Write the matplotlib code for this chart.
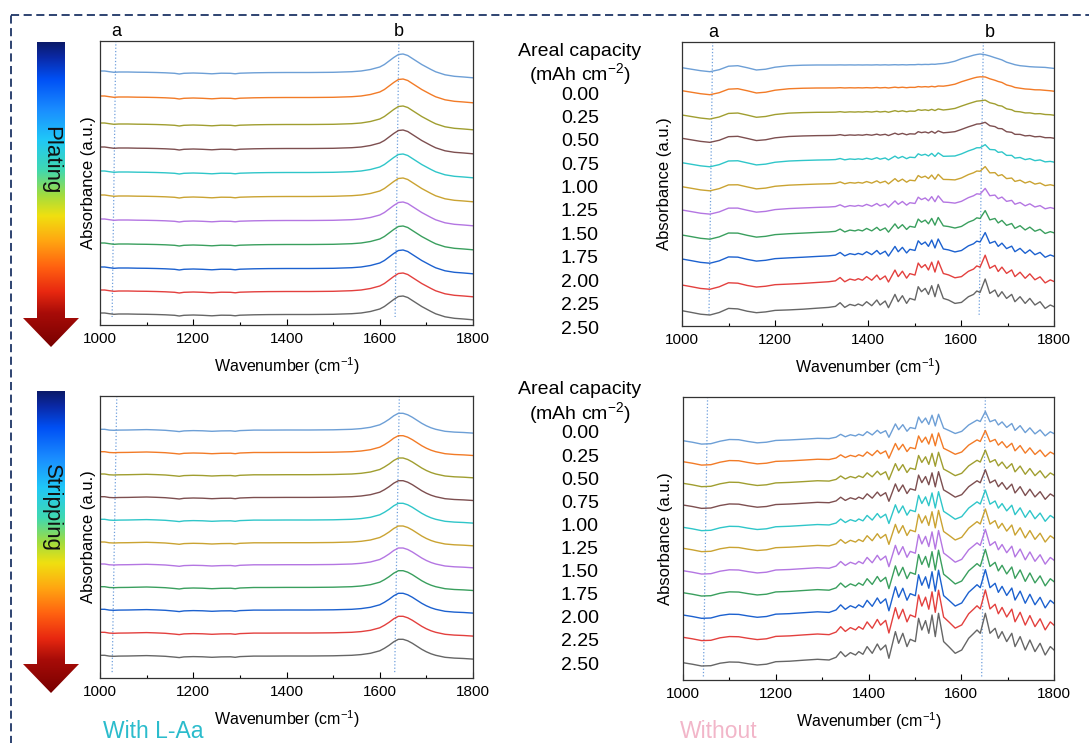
import numpy as np
import matplotlib.pyplot as plt
from matplotlib.colors import LinearSegmentedColormap
from matplotlib.patches import Polygon, Rectangle
from matplotlib.ticker import MultipleLocator
from matplotlib.transforms import blended_transform_factory

plt.rcParams['font.family'] = ['Liberation Sans', 'DejaVu Sans']
plt.rcParams['mathtext.fontset'] = 'custom'
plt.rcParams['mathtext.rm'] = 'Liberation Sans'
plt.rcParams['mathtext.it'] = 'Liberation Sans:italic'

# areal capacity of each spectrum (top trace = 0.00)
capacity = [0.00, 0.25, 0.50, 0.75, 1.00, 1.25, 1.50, 1.75, 2.00, 2.25, 2.50]
line_colors = ['#6d9fd6', '#f27b27', '#a09e30', '#7d4f50', '#2fc6c9', '#caa332',
               '#b476e2', '#3a9f5e', '#1c61cf', '#e3403e', '#666666']

# ---- with L-Aa: smooth spectra ----
wn_left = [1000, 1010, 1020, 1030, 1040, 1060, 1080, 1100, 1120, 1140,
           1160, 1170, 1180, 1200, 1220, 1240, 1260, 1280, 1290, 1300,
           1330, 1360, 1400, 1450, 1500, 1540, 1560, 1580, 1600, 1610,
           1620, 1630, 1640, 1650, 1660, 1670, 1680, 1690, 1700, 1710,
           1720, 1740, 1760, 1780, 1800]
shape_plating_la = [0, 0, -0.7, -1.3, -1, -1, -1.2, -1.3, -1.5, -1.8,
                    -2.3, -3, -2.3, -2, -2.3, -2.8, -2.2, -2.3, -2.8, -2.2,
                    -1.8, -1.6, -1.5, -1.5, -1.3, -0.7, 0, 1.5, 4, 6.5,
                    10, 13.5, 16.5, 17, 15.5, 12.5, 9.5, 6.5, 4, 1.5,
                    -0.8, -3.8, -5.3, -6, -6.8]
shape_stripping_la = [0, 0, -0.8, -1, -0.8, -0.7, -0.5, -0.3, -0.6, -1,
                      -1.8, -2.3, -1.6, -1.3, -1.5, -2, -1.6, -1.5, -2, -1.3,
                      -0.8, -0.8, -0.7, -0.7, -0.5, 0, 0.7, 2, 4.5, 7,
                      10, 13.5, 16, 16, 14.5, 12, 9, 6, 3.5, 1.5,
                      0, -2, -2.8, -3.2, -3.8]
offsets_plating_la = [254, 229, 202, 178, 154, 130, 106, 82, 58, 35, 12]
offsets_stripping_la = [248.7, 226.3, 204, 181.3, 158.7, 136, 114, 91.3, 68.7, 45.7, 22.7]

# ---- without L-Aa: spectra with sharp bands ----
wn_right = [1000, 1020, 1040, 1060, 1080, 1100, 1120, 1140, 1160, 1180,
            1200, 1230, 1260, 1290,
            1315, 1330, 1340, 1350, 1361, 1372, 1379, 1388, 1397, 1408,
            1419, 1426, 1437, 1444, 1458, 1465, 1474, 1483, 1490, 1501,
            1508, 1515, 1523, 1530, 1537, 1544, 1551, 1562, 1573, 1587,
            1601, 1616, 1627, 1634, 1641, 1652, 1662, 1673, 1680, 1688,
            1698, 1709, 1716, 1727, 1738, 1748, 1759, 1770, 1781, 1792, 1800]
# plating: first (0.00) and last (2.50) spectrum
plating_first = [0, -1.5, -3, -4, -2, 1.5, 2, 0, -2.3, -1.5,
                 0.5, 2, 2.5, 2.7,
                 2.7, 2.7, 2.8, 2.7, 2.8, 2.7, 2.8, 2.7, 2.8, 2.7,
                 2.9, 2.7, 2.9, 2.7, 3.0, 2.8, 3.0, 2.8, 3.0, 3.0,
                 3.3, 3.1, 3.3, 3.2, 3.5, 3.4, 3.8, 4.2, 5.0, 6.5,
                 9.0, 11.0, 12.5, 13.2, 13.7, 13.0, 11.7, 10.0, 9.0, 7.8,
                 5.5, 4.0, 3.0, 2.0, 1.5, 1.0, 0.7, 0.5, 0.3, -0.3, -0.7]
plating_last = [0, -1.7, -3.5, -4.3, -1.8, 2.3, 1.8, -0.5, -2, -1.2,
                0.3, 0.8, 1.5, 2.5,
                3.3, 4.3, 8, 3.3, 6.3, 5, 6.7, 5, 9, 5,
                10.7, 5.7, 9.7, 3, 16.3, 9, 15, 7.3, 12.3, 10.7,
                24, 19, 22.3, 16.3, 25, 14, 26.3, 12.3, 10.7, 7.3,
                8.3, 14, 16.3, 19.7, 18.3, 31.7, 17.3, 20.7, 14, 19,
                12.3, 16.3, 9, 14, 7.3, 12.3, 5.7, 9, 2.3, 5.7, 4]
plating_band_level = [0.0, 0.04, 0.1, 0.16, 0.27, 0.38, 0.46, 0.61, 0.72, 0.9, 1.0]
offsets_plating_wo = [258.3, 235.3, 211, 187.7, 163.3, 139.3, 116, 91, 67, 41, 15.3]

# stripping: background and last (2.50) spectrum
stripping_base = [0, -1.5, -3.5, -3, -0.5, 1.7, 1.5, -0.5, -2, -1.5,
                  -0.5, 0, 0.5, 1.3,
                  1.5, 1.6, 1.7, 1.7, 1.8, 1.8, 1.9, 1.9, 2.0, 2.1,
                  2.2, 2.2, 2.3, 2.4, 2.5, 2.6, 2.7, 2.8, 2.9, 3.0,
                  3.0, 3.1, 3.2, 3.2, 3.3, 3.4, 3.5, 4.0, 4.5, 5.0,
                  6.0, 7.0, 8.0, 8.5, 9.0, 9.0, 8.5, 7.5, 7.0, 6.5,
                  5.5, 5.0, 4.5, 4.0, 3.5, 3.0, 2.5, 2.2, 2.0, 1.8, 1.5]
stripping_last = [0, -1.5, -3.3, -3, -0.5, 0.7, 0.5, -1, -2.3, -1.5,
                  1.0, 1.5, 2.5, 3.4,
                  2.7, 5.4, 11.1, 6.1, 10.1, 7.7, 11.1, 8.4, 16.1, 9.4,
                  18.7, 12.7, 17.7, 4.4, 31.1, 19.4, 29.4, 16.1, 23.4, 21.1,
                  44.4, 32.7, 42.1, 29.4, 47.7, 26.1, 49.4, 21.1, 16.1, 9.4,
                  12.7, 24.4, 29.4, 32.7, 29.4, 49.4, 29.4, 34.4, 24.4, 31.1,
                  21.1, 29.4, 16.1, 26.1, 12.7, 22.7, 11.1, 19.4, 7.7, 16.1, 12.7]
stripping_band_level = [0.5, 0.55, 0.6, 0.65, 0.7, 0.75, 0.8, 0.85, 0.9, 0.95, 1.0]
offsets_stripping_wo = [239.3, 218.3, 196.7, 175, 152.7, 131.7, 109.3, 87.3, 65, 42.7, 17.3]

# band markers a / b: (position at top, position at bottom)
marks = {
    'plating_la': ((1034, 1026), (1641, 1633)),
    'plating_wo': ((1066, 1058), (1648, 1639)),
    'stripping_la': ((1036, 1026), (1642, 1632)),
    'stripping_wo': ((1053, 1044), (1652, 1644)),
}
mark_labels_plating_la = [1034, 1641]
mark_labels_plating_wo = [1067, 1662]

W, H = 1089, 743
fig = plt.figure(figsize=(W / 100, H / 100), dpi=100)

# overlay in pixel units for the arrows, frame and centre captions
bg = fig.add_axes([0, 0, 1, 1])
bg.axis('off')

arrow_cmap = LinearSegmentedColormap.from_list('arrow', [
    (0.00, '#0b1a6a'), (0.05, '#0a2aa8'), (0.12, '#0050f5'), (0.22, '#1a8cff'),
    (0.32, '#20c8f8'), (0.42, '#40d8b0'), (0.50, '#a0dc40'), (0.57, '#f0e010'),
    (0.65, '#ffa812'), (0.74, '#ff6010'), (0.82, '#e82810'), (0.89, '#a80c08'),
    (1.00, '#780000')])


def draw_arrow(y0, y_head, y1, label):
    pts = [(37, y0), (65, y0), (65, y_head), (79, y_head), (51, y1), (23, y_head), (37, y_head)]
    poly = Polygon(pts, closed=True, facecolor='none', edgecolor='none')
    bg.add_patch(poly)
    grad = np.linspace(0, 1, 256).reshape(-1, 1)
    im = bg.imshow(grad, cmap=arrow_cmap, extent=(20, 82, y1, y0),
                   aspect='auto', interpolation='bilinear')
    im.set_clip_path(poly)
    bg.text(51, y0 + (y_head - y0) * 0.43, label, rotation=270, ha='center', va='center',
            fontsize=16, color='#111111')


draw_arrow(42, 318, 347, 'Plating')
draw_arrow(391, 664, 693, 'Stripping')

bg.add_patch(Rectangle((11, 15), 1110, 770, fill=False, ec='#1e3566', lw=1.3,
                       ls=(0, (4.5, 2.5))))

# centre captions with the capacity of each trace
for top_y, step in [(51, 23.4), (390, 23.1)]:
    bg.text(580, top_y, 'Areal capacity', ha='center', va='center', fontsize=14)
    bg.text(580, top_y + 23, r'(mAh cm$^{\mathregular{-2}}$)', ha='center', va='center', fontsize=14)
    for i, c in enumerate(capacity):
        bg.text(580, top_y + 44 + i * step, f'{c:.2f}', ha='center', va='center', fontsize=14)

bg.text(103, 731, 'With L-Aa', ha='left', va='center', fontsize=16.5, color='#2bbccc')
bg.text(680, 731, 'Without', ha='left', va='center', fontsize=16.5, color='#f2b6c9')

bg.set_xlim(0, W)
bg.set_ylim(H, 0)


def setup_axes(rect, ymax, pad):
    ax = fig.add_axes(rect)
    ax.set_xlim(1000, 1800)
    ax.set_ylim(0, ymax)
    ax.xaxis.set_major_locator(MultipleLocator(200))
    ax.xaxis.set_minor_locator(MultipleLocator(100))
    ax.tick_params(axis='x', which='major', direction='in', length=4, width=0.8,
                   labelsize=11, pad=5)
    ax.tick_params(axis='x', which='minor', direction='in', length=2.5, width=0.8)
    ax.tick_params(axis='y', left=False, labelleft=False)
    for s in ax.spines.values():
        s.set_color('#333333')
        s.set_linewidth(0.9)
    ax.set_xlabel(r'Wavenumber (cm$^{\mathregular{-1}}$)', fontsize=11.5, labelpad=7)
    ax.set_ylabel('Absorbance (a.u.)', fontsize=12, labelpad=pad)
    return ax


def draw_marks(ax, key, ymax, y_end):
    for top, bot in marks[key]:
        ax.plot([top, bot], [ymax, y_end], ls=':', color='#6f9fdc', lw=0.9)


panels = [
    ([100 / W, 1 - 325 / H, 373 / W, 284 / H], 284, 3),
    ([682 / W, 1 - 326 / H, 372 / W, 284 / H], 284, 7),
    ([100 / W, 1 - 678 / H, 373 / W, 282 / H], 282, 3),
    ([683 / W, 1 - 680 / H, 371 / W, 283 / H], 283, 7),
]

# plating, with L-Aa
rect, ymax, pad = panels[0]
ax = setup_axes(rect, ymax, pad)
draw_marks(ax, 'plating_la', ymax, 8)
for off, col in zip(offsets_plating_la, line_colors):
    ax.plot(wn_left, np.array(shape_plating_la) + off, color=col, lw=1.0)
tr = blended_transform_factory(ax.transData, ax.transAxes)
for x, lab in zip(mark_labels_plating_la, ['a', 'b']):
    ax.text(x, 1.018, lab, transform=tr, ha='center', va='baseline', fontsize=13)

# plating, without
rect, ymax, pad = panels[1]
ax = setup_axes(rect, ymax, pad)
draw_marks(ax, 'plating_wo', ymax, 10)
first = np.array(plating_first)
last = np.array(plating_last)
for off, lvl, col in zip(offsets_plating_wo, plating_band_level, line_colors):
    ax.plot(wn_right, first + lvl * (last - first) + off, color=col, lw=1.0)
tr = blended_transform_factory(ax.transData, ax.transAxes)
for x, lab in zip(mark_labels_plating_wo, ['a', 'b']):
    ax.text(x, 1.018, lab, transform=tr, ha='center', va='baseline', fontsize=13)

# stripping, with L-Aa
rect, ymax, pad = panels[2]
ax = setup_axes(rect, ymax, pad)
draw_marks(ax, 'stripping_la', ymax, 4)
for off, col in zip(offsets_stripping_la, line_colors):
    ax.plot(wn_left, np.array(shape_stripping_la) + off, color=col, lw=1.0)

# stripping, without
rect, ymax, pad = panels[3]
ax = setup_axes(rect, ymax, pad)
draw_marks(ax, 'stripping_wo', ymax, 3)
base = np.array(stripping_base)
last = np.array(stripping_last)
for off, lvl, col in zip(offsets_stripping_wo, stripping_band_level, line_colors):
    ax.plot(wn_right, base + lvl * (last - base) + off, color=col, lw=1.0)

fig.savefig('out.png', dpi=100)
